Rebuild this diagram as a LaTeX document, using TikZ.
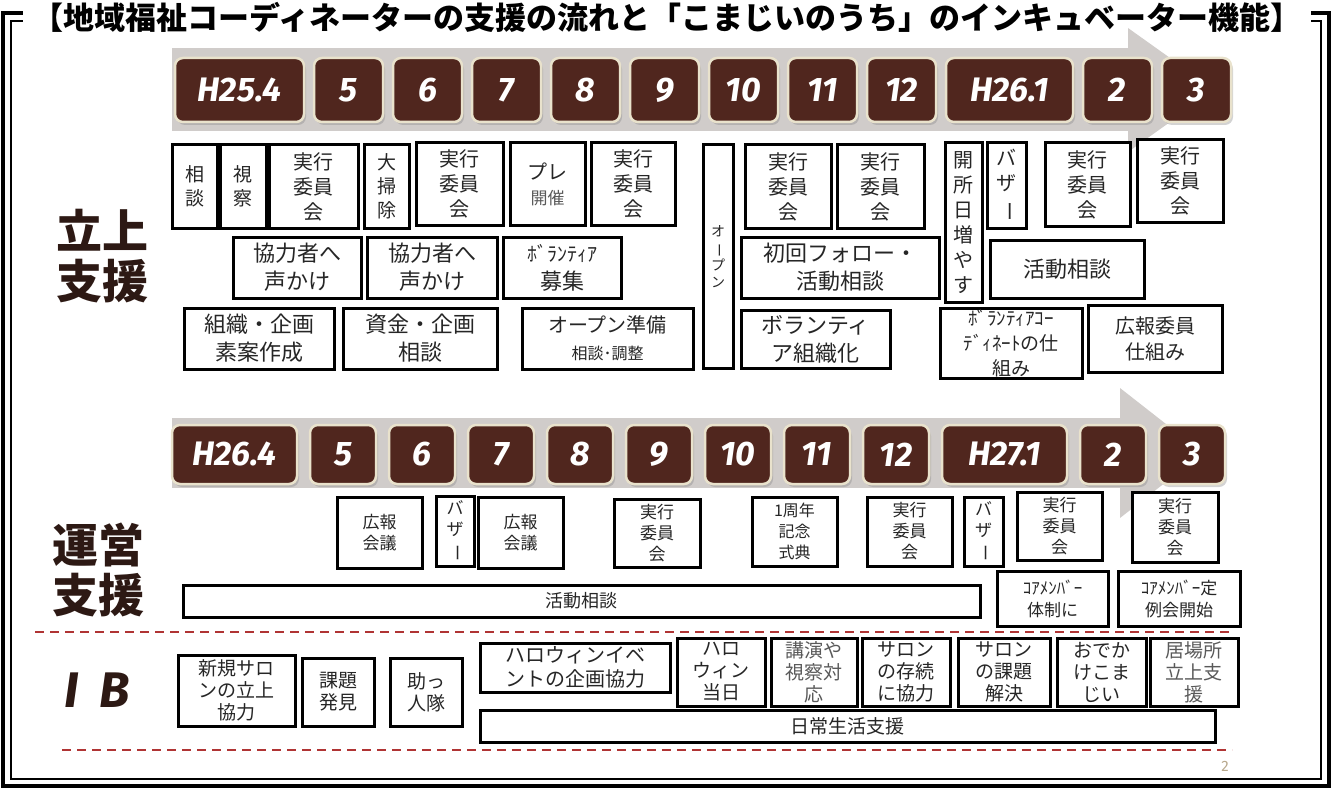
\documentclass[tikz,border=0pt]{standalone}
\usepackage{fontspec}
\setmainfont{Noto Sans CJK JP}
\newfontfamily\cjk{Noto Sans CJK JP}
\newfontfamily\numfont{Fira Sans}
\usepackage{xcolor}
\usetikzlibrary{positioning,shadows}
\definecolor{bandgray}{RGB}{208,204,202}
\definecolor{bark}{RGB}{80,38,30}
\definecolor{cream}{RGB}{233,226,204}
\definecolor{sectc}{RGB}{45,25,20}
\definecolor{sepred}{RGB}{176,52,52}
\definecolor{pageno}{RGB}{184,168,140}
\newcommand{\tatebo}{\rotatebox[origin=c]{-90}{ー}}
\tikzset{
  sz/.style 2 args={minimum width=#1pt, minimum height=#2pt},
  cell/.style={draw=black, line width=3pt, fill=white, align=center, inner sep=0pt, text=black!85, font=\cjk\fontsize{19}{24}\selectfont},
  jikko/.style={cell, font=\cjk\fontsize{20}{25}\selectfont},
  bigcell/.style={cell, font=\cjk\fontsize{22}{28}\selectfont},
  smallcell/.style={cell, font=\cjk\fontsize{17}{21}\selectfont},
  tinycell/.style={cell, font=\cjk\fontsize{16}{21}\selectfont},
  ibcell/.style={cell, font=\cjk\fontsize{19}{22}\selectfont},
  month/.style={draw=cream, line width=2.5pt, fill=bark, rounded corners=8pt, text=white, minimum width=69pt, inner sep=0pt, outer sep=0pt,
    font=\numfont\bfseries\itshape\fontsize{34}{34}\selectfont, drop shadow={shadow xshift=2pt, shadow yshift=-3pt, opacity=.35}},
  sect/.style={text=sectc, align=center, font=\cjk\bfseries\fontsize{46}{50}\selectfont},
  heading/.style={fill=white, minimum width=1288pt, inner xsep=0pt, inner ysep=1pt, font=\cjk\bfseries\fontsize{31}{31}\selectfont},
  divider/.style={draw=sepred, line width=2pt, dash pattern=on 9pt off 6pt},
}
\begin{document}
\begin{tikzpicture}[x=1pt, y=-1pt, node distance=10pt]
\useasboundingbox (0,0) rectangle (1333,789);
% frame and title
\draw[line width=4pt] (3,13) rectangle (1329,786);
\draw[line width=2pt] (11,21) rectangle (1321,779);
\node[heading] (title) at (667,17) {【地域福祉コーディネーターの支援の流れと「こまじいのうち」のインキュベーター機能】};

% timeline H25
\fill[bandgray] (172,48) rectangle (1128,131);
\fill[bandgray] (1128,28) -- (1215,90) -- (1128,152) -- cycle;
\node[month, minimum width=129pt, minimum height=64pt] (m254) at (239.5,90) {H25.4};
\node[month, minimum height=64pt, right=of m254] (m5a) {5};
\node[month, minimum height=64pt, right=of m5a] (m6a) {6};
\node[month, minimum height=64pt, right=of m6a] (m7a) {7};
\node[month, minimum height=64pt, right=of m7a] (m8a) {8};
\node[month, minimum height=64pt, right=of m8a] (m9a) {9};
\node[month, minimum height=64pt, right=of m9a] (m10a) {10};
\node[month, minimum height=64pt, right=of m10a] (m11a) {11};
\node[month, minimum height=64pt, right=of m11a] (m12a) {12};
\node[month, minimum width=127pt, minimum height=64pt, right=of m12a] (m261) {H26.1};
\node[month, minimum height=64pt, right=of m261] (m2a) {2};
\node[month, minimum height=64pt, right=of m2a] (m3a) {3};

% 立上支援
\node[sect] (tachiage) at (102,256) {立上\\支援};
\node[cell, sz={45}{83}] (sodan) at (194.5,186.5) {相\\談};
\node[cell, sz={46}{83}] (shisatsu) at (243,186.5) {視\\察};
\node[jikko, sz={89}{83}] (jikko1) at (313.5,186.5) {実行\\委員\\会};
\node[cell, sz={45}{83}] (osoji) at (386.5,186.5) {大\\掃\\除};
\node[jikko, sz={87}{82}] (jikko2) at (459.5,184) {実行\\委員\\会};
\node[jikko, sz={75}{82}] (pre) at (547.5,184) {プレ\\{\fontsize{17}{22}\selectfont\color{black!65}開催}};
\node[jikko, sz={84}{82}] (jikko3) at (633,184) {実行\\委員\\会};
\node[cell, sz={30}{223}, font=\cjk\fontsize{14}{17}\selectfont] (open) at (718,256.5) {オ\\\tatebo\\プ\\ン};
\node[jikko, sz={86}{83}] (jikko4) at (788,186.5) {実行\\委員\\会};
\node[jikko, sz={87}{83}] (jikko5) at (880.5,186.5) {実行\\委員\\会};
\node[cell, sz={37}{159}, font=\cjk\fontsize{20}{25}\selectfont] (kaisho) at (963.5,222.5) {開\\所\\日\\増\\や\\す};
\node[cell, sz={39}{85}, font=\cjk\fontsize{20}{25}\selectfont] (bazaar1) at (1006.5,185.5) {バ\\ザ\\\tatebo};
\node[jikko, sz={85}{83}] (jikko6) at (1087.5,184.5) {実行\\委員\\会};
\node[jikko, sz={86}{82}] (jikko7) at (1180,181) {実行\\委員\\会};
\node[bigcell, sz={128}{61}] (kyoryoku1) at (297,267.5) {協力者へ\\声かけ};
\node[bigcell, sz={130}{61}] (kyoryoku2) at (432,267.5) {協力者へ\\声かけ};
\node[bigcell, sz={118}{61}] (bosyu) at (562,267.5) {{\fontsize{20}{25}\selectfont ﾎﾞﾗﾝﾃｨｱ}\\募集};
\node[bigcell, sz={198}{61}] (follow) at (840,267.5) {初回フォロー・\\活動相談};
\node[bigcell, sz={154}{58}] (katsudo1) at (1067,269) {活動相談};
\node[bigcell, sz={150}{61}] (soshiki) at (259,338.5) {組織・企画\\素案作成};
\node[bigcell, sz={154}{61}] (shikin) at (420,338.5) {資金・企画\\相談};
\node[cell, sz={171}{61}, font=\cjk\fontsize{20}{27}\selectfont] (junbi) at (607.5,338.5) {オープン準備\\{\fontsize{16}{20}\selectfont 相談･調整}};
\node[bigcell, sz={149}{58}] (volorg) at (815.5,339) {ボランティ\\ア組織化};
\node[cell, sz={142}{70}, font=\cjk\fontsize{19}{25}\selectfont] (coord) at (1011,343) {ﾎﾞﾗﾝﾃｨｱｺｰ\\ﾃﾞｨﾈｰﾄの仕\\組み};
\node[cell, sz={134}{67}, font=\cjk\fontsize{20}{26}\selectfont] (kouho1) at (1155,338.5) {広報委員\\仕組み};

% timeline H26
\fill[bandgray] (172,418) rectangle (1120,488);
\fill[bandgray] (1120,388) -- (1203,453) -- (1120,518) -- cycle;
\node[month, minimum width=125pt, minimum height=59pt] (m264) at (234.5,454.5) {H26.4};
\node[month, minimum width=66pt, minimum height=59pt, right=13pt of m264] (m5b) {5};
\node[month, minimum width=66pt, minimum height=59pt, right=13pt of m5b] (m6b) {6};
\node[month, minimum width=66pt, minimum height=59pt, right=13pt of m6b] (m7b) {7};
\node[month, minimum width=66pt, minimum height=59pt, right=13pt of m7b] (m8b) {8};
\node[month, minimum width=66pt, minimum height=59pt, right=13pt of m8b] (m9b) {9};
\node[month, minimum width=66pt, minimum height=59pt, right=13pt of m9b] (m10b) {10};
\node[month, minimum width=66pt, minimum height=59pt, right=13pt of m10b] (m11b) {11};
\node[month, minimum width=66pt, minimum height=59pt, right=13pt of m11b] (m12b) {12};
\node[month, minimum width=125pt, minimum height=59pt, right=13pt of m12b] (m271) {H27.1};
\node[month, minimum width=66pt, minimum height=59pt, right=13pt of m271] (m2b) {2};
\node[month, minimum width=66pt, minimum height=59pt, right=13pt of m2b] (m3b) {3};

% 運営支援
\node[sect] (unei) at (98,570) {運営\\支援};
\node[smallcell, sz={85}{71}] (kaigi1) at (379.5,532.5) {広報\\会議};
\node[smallcell, sz={38}{70}] (bazaar2) at (455,531) {バ\\ザ\\\tatebo};
\node[smallcell, sz={85}{71}] (kaigi2) at (520.5,532.5) {広報\\会議};
\node[smallcell, sz={86}{68}] (jikko8) at (657,533) {実行\\委員\\会};
\node[tinycell, sz={85}{69}] (kinen) at (794.5,531.5) {1周年\\記念\\式典};
\node[smallcell, sz={85}{69}] (jikko9) at (909.5,531.5) {実行\\委員\\会};
\node[smallcell, sz={39}{69}] (bazaar3) at (983.5,531.5) {バ\\ザ\\\tatebo};
\node[smallcell, sz={85}{68}] (jikko10) at (1059.5,526) {実行\\委員\\会};
\node[smallcell, sz={86}{70}] (jikko11) at (1175,527) {実行\\委員\\会};
\node[cell, sz={797}{32}, font=\cjk\fontsize{18}{22}\selectfont] (katsudo2) at (581.5,601) {活動相談};
\node[cell, sz={111}{55}, font=\cjk\fontsize{17}{22}\selectfont] (core1) at (1052.5,598.5) {ｺｱﾒﾝﾊﾞｰ\\体制に};
\node[cell, sz={122}{55}, font=\cjk\fontsize{17}{22}\selectfont] (core2) at (1179,598.5) {ｺｱﾒﾝﾊﾞｰ定\\例会開始};

% IB
\draw[divider] (35,632) -- (1232,632);
\node[sect, font=\numfont\bfseries\itshape\fontsize{50}{50}\selectfont] (ib) at (97,690) {I\hspace{20pt}B};
\node[ibcell, sz={117}{71}] (salon) at (236.5,690.5) {新規サロ\\ンの立上\\協力};
\node[ibcell, sz={72}{68}] (kadai) at (338,692) {課題\\発見};
\node[ibcell, sz={72}{68}] (suketto) at (426,692) {助っ\\人隊};
\node[cell, sz={190}{49}, font=\cjk\fontsize{20}{24}\selectfont] (halloween) at (575,667.5) {ハロウィンイベ\\ントの企画協力};
\node[ibcell, sz={88}{68}] (hday) at (721,672) {ハロ\\ウィン\\当日};
\node[ibcell, sz={86}{68}, text=black!65] (koen) at (814,672) {講演や\\視察対\\応};
\node[ibcell, sz={88}{68}] (sonzoku) at (906,672) {サロン\\の存続\\に協力};
\node[ibcell, sz={92}{68}] (kaiketsu) at (1004,672) {サロン\\の課題\\解決};
\node[ibcell, sz={89}{68}] (odekake) at (1101.5,672) {おでか\\けこま\\じい};
\node[ibcell, sz={88}{68}, text=black!65] (ibasho) at (1194,672) {居場所\\立上支\\援};
\node[ibcell, sz={735}{32}] (nichijo) at (847.5,726) {日常生活支援};
\draw[divider] (62,750) -- (1232,750);
\node[text=pageno, font=\numfont\fontsize{15}{15}\selectfont] (page) at (1225,766) {2};
\end{tikzpicture}
\end{document}
